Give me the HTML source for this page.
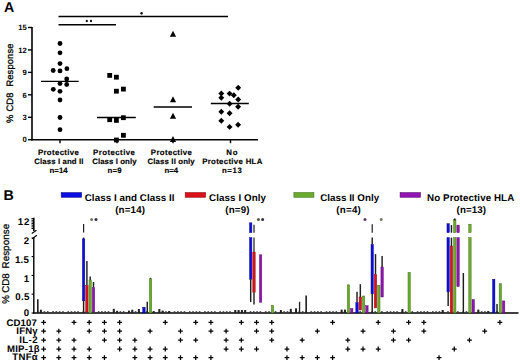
<!DOCTYPE html>
<html><head><meta charset="utf-8"><title>Figure</title>
<style>
html,body{margin:0;padding:0;background:#fff;}
body{width:520px;height:362px;overflow:hidden;}
svg{display:block;font-family:"Liberation Sans", sans-serif;text-rendering:geometricPrecision;}
</style></head>
<body>
<svg width="520" height="362" viewBox="0 0 520 362">
<rect width="520" height="362" fill="#fff"/>
<text x="3.9" y="11.75" font-size="14.2" font-weight="bold" text-anchor="start" fill="#000" >A</text>
<line x1="32" y1="27.0" x2="32" y2="140.5" stroke="#000" stroke-width="1.6"/>
<line x1="28" y1="139.7" x2="32" y2="139.7" stroke="#000" stroke-width="1.4"/>
<text x="26.7" y="142.45" font-size="7.7" font-weight="bold" text-anchor="end" fill="#000" >0</text>
<line x1="28" y1="117.3" x2="32" y2="117.3" stroke="#000" stroke-width="1.4"/>
<text x="26.7" y="120.05" font-size="7.7" font-weight="bold" text-anchor="end" fill="#000" >3</text>
<line x1="28" y1="94.8" x2="32" y2="94.8" stroke="#000" stroke-width="1.4"/>
<text x="26.7" y="97.55" font-size="7.7" font-weight="bold" text-anchor="end" fill="#000" >6</text>
<line x1="28" y1="72.4" x2="32" y2="72.4" stroke="#000" stroke-width="1.4"/>
<text x="26.7" y="75.15" font-size="7.7" font-weight="bold" text-anchor="end" fill="#000" >9</text>
<line x1="28" y1="49.9" x2="32" y2="49.9" stroke="#000" stroke-width="1.4"/>
<text x="26.7" y="52.65" font-size="7.7" font-weight="bold" text-anchor="end" fill="#000" >12</text>
<line x1="28" y1="27.5" x2="32" y2="27.5" stroke="#000" stroke-width="1.4"/>
<text x="26.7" y="30.25" font-size="7.7" font-weight="bold" text-anchor="end" fill="#000" >15</text>
<line x1="31.2" y1="139.7" x2="258" y2="139.7" stroke="#000" stroke-width="1.6"/>
<line x1="60" y1="139.7" x2="60" y2="143.2" stroke="#000" stroke-width="1.4"/>
<line x1="117" y1="139.7" x2="117" y2="143.2" stroke="#000" stroke-width="1.4"/>
<line x1="173" y1="139.7" x2="173" y2="143.2" stroke="#000" stroke-width="1.4"/>
<line x1="230.5" y1="139.7" x2="230.5" y2="143.2" stroke="#000" stroke-width="1.4"/>
<text transform="translate(12.7,122.9) rotate(-90)" font-size="9.3" stroke="#000" stroke-width="0.3" textLength="30.4" lengthAdjust="spacing">% CD8</text>
<text transform="translate(12.7,86.6) rotate(-90)" font-size="9.3" stroke="#000" stroke-width="0.3" textLength="43" lengthAdjust="spacing">Response</text>
<text x="37.88" y="154.8" font-size="7.8" font-weight="bold" textLength="41.03" lengthAdjust="spacing" stroke="#000" stroke-width="0.15">Protective</text>
<text x="34.20" y="163.8" font-size="7.8" font-weight="bold" textLength="49.22" lengthAdjust="spacing" stroke="#000" stroke-width="0.15">Class I and II</text>
<text x="49.57" y="172.8" font-size="7.8" font-weight="bold" textLength="18.07" lengthAdjust="spacing" stroke="#000" stroke-width="0.15">n=14</text>
<text x="93.10" y="154.8" font-size="7.8" font-weight="bold" textLength="41.80" lengthAdjust="spacing" stroke="#000" stroke-width="0.15">Protective</text>
<text x="92.16" y="163.8" font-size="7.8" font-weight="bold" textLength="44.33" lengthAdjust="spacing" stroke="#000" stroke-width="0.15">Class I only</text>
<text x="107.43" y="172.8" font-size="7.8" font-weight="bold" textLength="14.11" lengthAdjust="spacing" stroke="#000" stroke-width="0.15">n=9</text>
<text x="150.83" y="154.8" font-size="7.8" font-weight="bold" textLength="41.09" lengthAdjust="spacing" stroke="#000" stroke-width="0.15">Protective</text>
<text x="147.52" y="163.8" font-size="7.8" font-weight="bold" textLength="47.19" lengthAdjust="spacing" stroke="#000" stroke-width="0.15">Class II only</text>
<text x="164.60" y="172.8" font-size="7.8" font-weight="bold" textLength="13.58" lengthAdjust="spacing" stroke="#000" stroke-width="0.15">n=4</text>
<text x="226.37" y="154.8" font-size="7.8" font-weight="bold" textLength="11.27" lengthAdjust="spacing" stroke="#000" stroke-width="0.15">No</text>
<text x="202.17" y="163.8" font-size="7.8" font-weight="bold" textLength="60.15" lengthAdjust="spacing" stroke="#000" stroke-width="0.15">Protective HLA</text>
<text x="221.94" y="172.8" font-size="7.8" font-weight="bold" textLength="19.82" lengthAdjust="spacing" stroke="#000" stroke-width="0.15">n=13</text>
<line x1="58.5" y1="16.5" x2="228" y2="16.5" stroke="#000" stroke-width="1.5"/>
<line x1="58.5" y1="24.7" x2="116" y2="24.7" stroke="#000" stroke-width="1.5"/>
<ellipse cx="141.6" cy="13.3" rx="1.2" ry="1.35" fill="#111"/>
<ellipse cx="86.8" cy="21" rx="1.1" ry="1.35" fill="#111"/>
<ellipse cx="91.0" cy="21" rx="1.1" ry="1.35" fill="#111"/>
<line x1="41" y1="81.3" x2="78.7" y2="81.3" stroke="#000" stroke-width="1.3"/>
<line x1="97" y1="117.5" x2="135.8" y2="117.5" stroke="#000" stroke-width="1.3"/>
<line x1="153.7" y1="107" x2="192" y2="107" stroke="#000" stroke-width="1.3"/>
<line x1="210.8" y1="103.5" x2="248.8" y2="103.5" stroke="#000" stroke-width="1.3"/>
<circle cx="60" cy="43.5" r="2.4" fill="#000"/>
<circle cx="60" cy="52.8" r="2.4" fill="#000"/>
<circle cx="60" cy="63.6" r="2.4" fill="#000"/>
<circle cx="53.2" cy="70.5" r="2.4" fill="#000"/>
<circle cx="60" cy="70.9" r="2.4" fill="#000"/>
<circle cx="66.9" cy="68.7" r="2.4" fill="#000"/>
<circle cx="66.7" cy="79.0" r="2.4" fill="#000"/>
<circle cx="60" cy="83.6" r="2.4" fill="#000"/>
<circle cx="66.7" cy="84.5" r="2.4" fill="#000"/>
<circle cx="53.3" cy="89.3" r="2.4" fill="#000"/>
<circle cx="60" cy="91.3" r="2.4" fill="#000"/>
<circle cx="60" cy="100" r="2.4" fill="#000"/>
<circle cx="60" cy="117.5" r="2.4" fill="#000"/>
<circle cx="60" cy="129.7" r="2.4" fill="#000"/>
<rect x="107.30" y="73.00" width="4.8" height="4.8" fill="#000"/>
<rect x="114.00" y="74.80" width="4.8" height="4.8" fill="#000"/>
<rect x="114.00" y="88.80" width="4.8" height="4.8" fill="#000"/>
<rect x="121.00" y="86.70" width="4.8" height="4.8" fill="#000"/>
<rect x="107.30" y="117.30" width="4.8" height="4.8" fill="#000"/>
<rect x="114.00" y="118.00" width="4.8" height="4.8" fill="#000"/>
<rect x="121.00" y="115.30" width="4.8" height="4.8" fill="#000"/>
<rect x="121.00" y="132.90" width="4.8" height="4.8" fill="#000"/>
<rect x="114.00" y="137.60" width="4.8" height="4.8" fill="#000"/>
<polygon points="173,30.8 176.1,36.8 169.9,36.8" fill="#000"/>
<polygon points="173,96.3 176.1,102.3 169.9,102.3" fill="#000"/>
<polygon points="173,112.8 176.1,118.8 169.9,118.8" fill="#000"/>
<polygon points="173,136.0 176.1,142.0 169.9,142.0" fill="#000"/>
<polygon points="238.2,84.75 241.14999999999998,87.7 238.2,90.65 235.25,87.7" fill="#000"/>
<polygon points="221.3,90.55 224.25,93.5 221.3,96.45 218.35000000000002,93.5" fill="#000"/>
<polygon points="221.3,94.85 224.25,97.8 221.3,100.75 218.35000000000002,97.8" fill="#000"/>
<polygon points="229.6,90.64999999999999 232.54999999999998,93.6 229.6,96.55 226.65,93.6" fill="#000"/>
<polygon points="233.8,92.25 236.75,95.2 233.8,98.15 230.85000000000002,95.2" fill="#000"/>
<polygon points="238.2,96.55 241.14999999999998,99.5 238.2,102.45 235.25,99.5" fill="#000"/>
<polygon points="229.6,100.75 232.54999999999998,103.7 229.6,106.65 226.65,103.7" fill="#000"/>
<polygon points="238.1,103.75 241.04999999999998,106.7 238.1,109.65 235.15,106.7" fill="#000"/>
<polygon points="221.3,108.75 224.25,111.7 221.3,114.65 218.35000000000002,111.7" fill="#000"/>
<polygon points="229.6,110.35 232.54999999999998,113.3 229.6,116.25 226.65,113.3" fill="#000"/>
<polygon points="221.3,117.75 224.25,120.7 221.3,123.65 218.35000000000002,120.7" fill="#000"/>
<polygon points="229.6,123.95 232.54999999999998,126.9 229.6,129.85 226.65,126.9" fill="#000"/>
<polygon points="238.1,121.75 241.04999999999998,124.7 238.1,127.65 235.15,124.7" fill="#000"/>
<text x="3.5" y="199.8" font-size="14.2" font-weight="bold" text-anchor="start" fill="#000" >B</text>
<rect x="61.199999999999996" y="192.65" width="20.4" height="4.6" fill="#0c0ce4" stroke="#0a0a80" stroke-width="0.6"/>
<text x="84.76" y="200.8" font-size="9.75" font-weight="bold" textLength="89.69" lengthAdjust="spacing" >Class I and Class II</text>
<text x="115.20" y="213.1" font-size="9.75" font-weight="bold" textLength="29.79" lengthAdjust="spacing" >(n=14)</text>
<rect x="185.20000000000002" y="192.65" width="20.4" height="4.6" fill="#dc1018" stroke="#8a0a10" stroke-width="0.6"/>
<text x="209.10" y="200.8" font-size="9.75" font-weight="bold" textLength="56.86" lengthAdjust="spacing" >Class I Only</text>
<text x="225.20" y="213.1" font-size="9.75" font-weight="bold" textLength="24.33" lengthAdjust="spacing" >(n=9)</text>
<rect x="293.90000000000003" y="192.65" width="20.0" height="4.6" fill="#6cac2c" stroke="#40701a" stroke-width="0.6"/>
<text x="320.26" y="200.8" font-size="9.75" font-weight="bold" textLength="58.83" lengthAdjust="spacing" >Class II Only</text>
<text x="336.24" y="213.1" font-size="9.75" font-weight="bold" textLength="24.63" lengthAdjust="spacing" >(n=4)</text>
<rect x="400.1" y="192.65" width="20.4" height="4.6" fill="#9214b2" stroke="#5a0a70" stroke-width="0.6"/>
<text x="427.08" y="200.8" font-size="9.75" font-weight="bold" textLength="87.13" lengthAdjust="spacing" >No Protective HLA</text>
<text x="456.56" y="213.1" font-size="9.75" font-weight="bold" textLength="29.41" lengthAdjust="spacing" >(n=13)</text>
<text transform="translate(9.1,303.7) rotate(-90)" font-size="9.8" stroke="#000" stroke-width="0.25" textLength="30.3" lengthAdjust="spacing">% CD8</text>
<text transform="translate(9.1,268.5) rotate(-90)" font-size="9.8" stroke="#000" stroke-width="0.25" textLength="44.6" lengthAdjust="spacing">Response</text>
<line x1="33.8" y1="217.8" x2="33.8" y2="231.0" stroke="#000" stroke-width="1.6"/>
<line x1="31.499999999999996" y1="218.6" x2="33.8" y2="218.6" stroke="#000" stroke-width="1.0"/>
<line x1="31.499999999999996" y1="220.26" x2="33.8" y2="220.26" stroke="#000" stroke-width="1.0"/>
<line x1="31.499999999999996" y1="221.92" x2="33.8" y2="221.92" stroke="#000" stroke-width="1.0"/>
<line x1="31.499999999999996" y1="223.57999999999998" x2="33.8" y2="223.57999999999998" stroke="#000" stroke-width="1.0"/>
<line x1="31.499999999999996" y1="225.23999999999998" x2="33.8" y2="225.23999999999998" stroke="#000" stroke-width="1.0"/>
<line x1="31.499999999999996" y1="226.9" x2="33.8" y2="226.9" stroke="#000" stroke-width="1.0"/>
<line x1="31.499999999999996" y1="228.56" x2="33.8" y2="228.56" stroke="#000" stroke-width="1.0"/>
<line x1="31.799999999999997" y1="233.4" x2="36.5" y2="230.2" stroke="#000" stroke-width="1.2"/>
<line x1="32.199999999999996" y1="238.9" x2="36.8" y2="235.2" stroke="#000" stroke-width="1.2"/>
<line x1="33.8" y1="237.0" x2="33.8" y2="313.7" stroke="#000" stroke-width="1.4"/>
<line x1="31.599999999999998" y1="238.0" x2="33.8" y2="238.0" stroke="#000" stroke-width="1.1"/>
<line x1="31.599999999999998" y1="256.6" x2="33.8" y2="256.6" stroke="#000" stroke-width="1.1"/>
<line x1="31.599999999999998" y1="275.4" x2="33.8" y2="275.4" stroke="#000" stroke-width="1.1"/>
<line x1="31.599999999999998" y1="294.2" x2="33.8" y2="294.2" stroke="#000" stroke-width="1.1"/>
<line x1="31.599999999999998" y1="313.0" x2="33.8" y2="313.0" stroke="#000" stroke-width="1.1"/>
<text x="17.84" y="224.8" font-size="9.7" font-weight="bold" textLength="11.57" lengthAdjust="spacing" >12</text>
<text x="26.35" y="243.9" font-size="9.7" font-weight="bold" text-anchor="middle" fill="#000" >2</text>
<text x="14.93" y="262.6" font-size="9.7" font-weight="bold" textLength="13.93" lengthAdjust="spacing" >1.5</text>
<text x="26.35" y="281.5" font-size="9.7" font-weight="bold" text-anchor="middle" fill="#000" >1</text>
<text x="15.25" y="300.4" font-size="9.7" font-weight="bold" textLength="14.23" lengthAdjust="spacing" >0.5</text>
<text x="26.35" y="315.8" font-size="9.7" font-weight="bold" text-anchor="middle" fill="#000" >0</text>
<line x1="33.099999999999994" y1="313.0" x2="518.5" y2="313.0" stroke="#000" stroke-width="1.4"/>
<rect x="37.03" y="311.20" width="1.6" height="1.2" fill="#333"/>
<rect x="40.33" y="311.20" width="1.6" height="1.2" fill="#333"/>
<rect x="43.63" y="311.20" width="1.6" height="1.2" fill="#333"/>
<rect x="46.93" y="311.20" width="1.6" height="1.2" fill="#333"/>
<rect x="52.22" y="311.20" width="1.6" height="1.2" fill="#333"/>
<rect x="55.52" y="311.20" width="1.6" height="1.2" fill="#333"/>
<rect x="58.82" y="311.20" width="1.6" height="1.2" fill="#333"/>
<rect x="62.12" y="311.20" width="1.6" height="1.2" fill="#333"/>
<rect x="67.41" y="311.20" width="1.6" height="1.2" fill="#333"/>
<rect x="70.71" y="311.20" width="1.6" height="1.2" fill="#333"/>
<rect x="74.01" y="311.20" width="1.6" height="1.2" fill="#333"/>
<rect x="77.31" y="311.20" width="1.6" height="1.2" fill="#333"/>
<rect x="82.60" y="311.20" width="1.6" height="1.2" fill="#333"/>
<rect x="85.90" y="311.20" width="1.6" height="1.2" fill="#333"/>
<rect x="89.20" y="311.20" width="1.6" height="1.2" fill="#333"/>
<rect x="92.50" y="311.20" width="1.6" height="1.2" fill="#333"/>
<rect x="97.79" y="311.20" width="1.6" height="1.2" fill="#333"/>
<rect x="101.09" y="311.20" width="1.6" height="1.2" fill="#333"/>
<rect x="104.39" y="311.20" width="1.6" height="1.2" fill="#333"/>
<rect x="107.69" y="311.20" width="1.6" height="1.2" fill="#333"/>
<rect x="112.98" y="311.20" width="1.6" height="1.2" fill="#333"/>
<rect x="116.28" y="311.20" width="1.6" height="1.2" fill="#333"/>
<rect x="119.58" y="311.20" width="1.6" height="1.2" fill="#333"/>
<rect x="122.88" y="311.20" width="1.6" height="1.2" fill="#333"/>
<rect x="128.17" y="311.20" width="1.6" height="1.2" fill="#333"/>
<rect x="131.47" y="311.20" width="1.6" height="1.2" fill="#333"/>
<rect x="134.77" y="311.20" width="1.6" height="1.2" fill="#333"/>
<rect x="138.07" y="311.20" width="1.6" height="1.2" fill="#333"/>
<rect x="142.96" y="311.20" width="1.6" height="1.2" fill="#333"/>
<rect x="146.26" y="311.20" width="1.6" height="1.2" fill="#333"/>
<rect x="149.56" y="311.20" width="1.6" height="1.2" fill="#333"/>
<rect x="152.86" y="311.20" width="1.6" height="1.2" fill="#333"/>
<rect x="158.55" y="311.20" width="1.6" height="1.2" fill="#333"/>
<rect x="161.85" y="311.20" width="1.6" height="1.2" fill="#333"/>
<rect x="165.15" y="311.20" width="1.6" height="1.2" fill="#333"/>
<rect x="168.45" y="311.20" width="1.6" height="1.2" fill="#333"/>
<rect x="173.74" y="311.20" width="1.6" height="1.2" fill="#333"/>
<rect x="177.04" y="311.20" width="1.6" height="1.2" fill="#333"/>
<rect x="180.34" y="311.20" width="1.6" height="1.2" fill="#333"/>
<rect x="183.64" y="311.20" width="1.6" height="1.2" fill="#333"/>
<rect x="188.93" y="311.20" width="1.6" height="1.2" fill="#333"/>
<rect x="192.23" y="311.20" width="1.6" height="1.2" fill="#333"/>
<rect x="195.53" y="311.20" width="1.6" height="1.2" fill="#333"/>
<rect x="198.83" y="311.20" width="1.6" height="1.2" fill="#333"/>
<rect x="204.12" y="311.20" width="1.6" height="1.2" fill="#333"/>
<rect x="207.42" y="311.20" width="1.6" height="1.2" fill="#333"/>
<rect x="210.72" y="311.20" width="1.6" height="1.2" fill="#333"/>
<rect x="214.02" y="311.20" width="1.6" height="1.2" fill="#333"/>
<rect x="219.31" y="311.20" width="1.6" height="1.2" fill="#333"/>
<rect x="222.61" y="311.20" width="1.6" height="1.2" fill="#333"/>
<rect x="225.91" y="311.20" width="1.6" height="1.2" fill="#333"/>
<rect x="229.21" y="311.20" width="1.6" height="1.2" fill="#333"/>
<rect x="234.50" y="311.20" width="1.6" height="1.2" fill="#333"/>
<rect x="237.80" y="311.20" width="1.6" height="1.2" fill="#333"/>
<rect x="241.10" y="311.20" width="1.6" height="1.2" fill="#333"/>
<rect x="244.40" y="311.20" width="1.6" height="1.2" fill="#333"/>
<rect x="249.69" y="311.20" width="1.6" height="1.2" fill="#333"/>
<rect x="252.99" y="311.20" width="1.6" height="1.2" fill="#333"/>
<rect x="256.29" y="311.20" width="1.6" height="1.2" fill="#333"/>
<rect x="259.59" y="311.20" width="1.6" height="1.2" fill="#333"/>
<rect x="264.88" y="311.20" width="1.6" height="1.2" fill="#333"/>
<rect x="268.18" y="311.20" width="1.6" height="1.2" fill="#333"/>
<rect x="271.48" y="311.20" width="1.6" height="1.2" fill="#333"/>
<rect x="274.78" y="311.20" width="1.6" height="1.2" fill="#333"/>
<rect x="280.07" y="311.20" width="1.6" height="1.2" fill="#333"/>
<rect x="283.37" y="311.20" width="1.6" height="1.2" fill="#333"/>
<rect x="286.67" y="311.20" width="1.6" height="1.2" fill="#333"/>
<rect x="289.97" y="311.20" width="1.6" height="1.2" fill="#333"/>
<rect x="295.26" y="311.20" width="1.6" height="1.2" fill="#333"/>
<rect x="298.56" y="311.20" width="1.6" height="1.2" fill="#333"/>
<rect x="301.86" y="311.20" width="1.6" height="1.2" fill="#333"/>
<rect x="305.16" y="311.20" width="1.6" height="1.2" fill="#333"/>
<rect x="310.45" y="311.20" width="1.6" height="1.2" fill="#333"/>
<rect x="313.75" y="311.20" width="1.6" height="1.2" fill="#333"/>
<rect x="317.05" y="311.20" width="1.6" height="1.2" fill="#333"/>
<rect x="320.35" y="311.20" width="1.6" height="1.2" fill="#333"/>
<rect x="325.64" y="311.20" width="1.6" height="1.2" fill="#333"/>
<rect x="328.94" y="311.20" width="1.6" height="1.2" fill="#333"/>
<rect x="332.24" y="311.20" width="1.6" height="1.2" fill="#333"/>
<rect x="335.54" y="311.20" width="1.6" height="1.2" fill="#333"/>
<rect x="340.83" y="311.20" width="1.6" height="1.2" fill="#333"/>
<rect x="344.13" y="311.20" width="1.6" height="1.2" fill="#333"/>
<rect x="347.43" y="311.20" width="1.6" height="1.2" fill="#333"/>
<rect x="350.73" y="311.20" width="1.6" height="1.2" fill="#333"/>
<rect x="356.02" y="311.20" width="1.6" height="1.2" fill="#333"/>
<rect x="359.32" y="311.20" width="1.6" height="1.2" fill="#333"/>
<rect x="362.62" y="311.20" width="1.6" height="1.2" fill="#333"/>
<rect x="365.92" y="311.20" width="1.6" height="1.2" fill="#333"/>
<rect x="371.21" y="311.20" width="1.6" height="1.2" fill="#333"/>
<rect x="374.51" y="311.20" width="1.6" height="1.2" fill="#333"/>
<rect x="377.81" y="311.20" width="1.6" height="1.2" fill="#333"/>
<rect x="381.11" y="311.20" width="1.6" height="1.2" fill="#333"/>
<rect x="386.40" y="311.20" width="1.6" height="1.2" fill="#333"/>
<rect x="389.70" y="311.20" width="1.6" height="1.2" fill="#333"/>
<rect x="393.00" y="311.20" width="1.6" height="1.2" fill="#333"/>
<rect x="396.30" y="311.20" width="1.6" height="1.2" fill="#333"/>
<rect x="401.59" y="311.20" width="1.6" height="1.2" fill="#333"/>
<rect x="404.89" y="311.20" width="1.6" height="1.2" fill="#333"/>
<rect x="408.19" y="311.20" width="1.6" height="1.2" fill="#333"/>
<rect x="411.49" y="311.20" width="1.6" height="1.2" fill="#333"/>
<rect x="416.78" y="311.20" width="1.6" height="1.2" fill="#333"/>
<rect x="420.08" y="311.20" width="1.6" height="1.2" fill="#333"/>
<rect x="423.38" y="311.20" width="1.6" height="1.2" fill="#333"/>
<rect x="426.68" y="311.20" width="1.6" height="1.2" fill="#333"/>
<rect x="431.97" y="311.20" width="1.6" height="1.2" fill="#333"/>
<rect x="435.27" y="311.20" width="1.6" height="1.2" fill="#333"/>
<rect x="438.57" y="311.20" width="1.6" height="1.2" fill="#333"/>
<rect x="441.87" y="311.20" width="1.6" height="1.2" fill="#333"/>
<rect x="447.16" y="311.20" width="1.6" height="1.2" fill="#333"/>
<rect x="450.46" y="311.20" width="1.6" height="1.2" fill="#333"/>
<rect x="453.76" y="311.20" width="1.6" height="1.2" fill="#333"/>
<rect x="457.06" y="311.20" width="1.6" height="1.2" fill="#333"/>
<rect x="462.35" y="311.20" width="1.6" height="1.2" fill="#333"/>
<rect x="465.65" y="311.20" width="1.6" height="1.2" fill="#333"/>
<rect x="468.95" y="311.20" width="1.6" height="1.2" fill="#333"/>
<rect x="472.25" y="311.20" width="1.6" height="1.2" fill="#333"/>
<rect x="477.54" y="311.20" width="1.6" height="1.2" fill="#333"/>
<rect x="480.84" y="311.20" width="1.6" height="1.2" fill="#333"/>
<rect x="484.14" y="311.20" width="1.6" height="1.2" fill="#333"/>
<rect x="487.44" y="311.20" width="1.6" height="1.2" fill="#333"/>
<rect x="492.73" y="311.20" width="1.6" height="1.2" fill="#333"/>
<rect x="496.03" y="311.20" width="1.6" height="1.2" fill="#333"/>
<rect x="499.33" y="311.20" width="1.6" height="1.2" fill="#333"/>
<rect x="502.63" y="311.20" width="1.6" height="1.2" fill="#333"/>
<line x1="37.80" y1="299.3" x2="37.80" y2="313.0" stroke="#1e1e1e" stroke-width="1.6"/>
<line x1="40.90" y1="309.7" x2="40.90" y2="313.0" stroke="#222" stroke-width="2.0"/>
<line x1="83.60" y1="237.6" x2="83.60" y2="239.2" stroke="#1e1e1e" stroke-width="1.45"/>
<rect x="82.40" y="238.9" width="2.4" height="61.90" fill="#0c0ce4" stroke="#0a0a80" stroke-width="0.45"/>
<line x1="83.60" y1="300.8" x2="83.60" y2="313.0" stroke="#1e1e1e" stroke-width="1.45"/>
<line x1="83.60" y1="224.0" x2="83.60" y2="232.4" stroke="#1e1e1e" stroke-width="1.2"/>
<line x1="86.90" y1="261" x2="86.90" y2="285.4" stroke="#1e1e1e" stroke-width="1.45"/>
<rect x="85.70" y="285.4" width="2.4" height="26.60" fill="#dc1018" stroke="#8a0a10" stroke-width="0.45"/>
<line x1="90.20" y1="276.4" x2="90.20" y2="280" stroke="#1e1e1e" stroke-width="1.45"/>
<rect x="89.00" y="280" width="2.4" height="33.00" fill="#6cac2c" stroke="#40701a" stroke-width="0.45"/>
<line x1="93.50" y1="282" x2="93.50" y2="287.5" stroke="#1e1e1e" stroke-width="1.45"/>
<rect x="92.30" y="287.5" width="2.4" height="24.50" fill="#9214b2" stroke="#5a0a70" stroke-width="0.45"/>
<line x1="113.78" y1="308.8" x2="113.78" y2="313.0" stroke="#222" stroke-width="2.0"/>
<line x1="117.08" y1="310.8" x2="117.08" y2="313.0" stroke="#222" stroke-width="2.0"/>
<line x1="128.97" y1="310.6" x2="128.97" y2="313.0" stroke="#222" stroke-width="2.0"/>
<line x1="132.27" y1="309.7" x2="132.27" y2="313.0" stroke="#222" stroke-width="2.0"/>
<line x1="138.87" y1="309.0" x2="138.87" y2="313.0" stroke="#222" stroke-width="2.0"/>
<rect x="142.76" y="307.2" width="2.4" height="5.80" fill="#0c0ce4" stroke="#0a0a80" stroke-width="0.45"/>
<line x1="147.26" y1="301.8" x2="147.26" y2="313.0" stroke="#1e1e1e" stroke-width="1.45"/>
<line x1="150.56" y1="277.8" x2="150.56" y2="279" stroke="#1e1e1e" stroke-width="1.45"/>
<rect x="149.36" y="278.8" width="2.4" height="34.20" fill="#6cac2c" stroke="#40701a" stroke-width="0.45"/>
<line x1="153.66" y1="311.2" x2="153.66" y2="313.0" stroke="#222" stroke-width="2.0"/>
<line x1="159.35" y1="309" x2="159.35" y2="313.0" stroke="#222" stroke-width="2.0"/>
<line x1="162.65" y1="310.6" x2="162.65" y2="313.0" stroke="#222" stroke-width="2.0"/>
<line x1="169.25" y1="311" x2="169.25" y2="313.0" stroke="#222" stroke-width="2.0"/>
<line x1="235.30" y1="310" x2="235.30" y2="313.0" stroke="#222" stroke-width="2.0"/>
<line x1="238.60" y1="310" x2="238.60" y2="313.0" stroke="#222" stroke-width="2.0"/>
<line x1="241.90" y1="310" x2="241.90" y2="313.0" stroke="#222" stroke-width="2.0"/>
<line x1="245.20" y1="310" x2="245.20" y2="313.0" stroke="#222" stroke-width="2.0"/>
<rect x="249.49" y="222.8" width="2.4" height="9.90" fill="#0c0ce4" stroke="#0a0a80" stroke-width="0.45"/>
<rect x="249.49" y="237.6" width="2.4" height="41.70" fill="#0c0ce4" stroke="#0a0a80" stroke-width="0.45"/>
<line x1="250.69" y1="279.3" x2="250.69" y2="302" stroke="#1e1e1e" stroke-width="1.45"/>
<line x1="253.99" y1="224.7" x2="253.99" y2="232.7" stroke="#555" stroke-width="1.6"/>
<line x1="253.99" y1="237.6" x2="253.99" y2="252" stroke="#555" stroke-width="1.6"/>
<rect x="252.79" y="252" width="2.4" height="40.40" fill="#dc1018" stroke="#8a0a10" stroke-width="0.45"/>
<line x1="253.99" y1="292.4" x2="253.99" y2="304.6" stroke="#1e1e1e" stroke-width="1.4"/>
<rect x="259.39" y="254.8" width="2.4" height="47.50" fill="#9214b2" stroke="#5a0a70" stroke-width="0.45"/>
<rect x="271.28" y="305.2" width="2.4" height="7.80" fill="#6cac2c" stroke="#40701a" stroke-width="0.45"/>
<line x1="280.87" y1="310" x2="280.87" y2="313.0" stroke="#222" stroke-width="2.0"/>
<line x1="290.77" y1="308.8" x2="290.77" y2="313.0" stroke="#222" stroke-width="2.0"/>
<line x1="296.06" y1="308.3" x2="296.06" y2="313.0" stroke="#222" stroke-width="2.0"/>
<line x1="299.56" y1="301.8" x2="299.56" y2="313.0" stroke="#1e1e1e" stroke-width="1.3"/>
<line x1="306.16" y1="295.5" x2="306.16" y2="313.0" stroke="#1e1e1e" stroke-width="1.6"/>
<line x1="341.63" y1="309.6" x2="341.63" y2="313.0" stroke="#222" stroke-width="2.0"/>
<line x1="344.93" y1="309.6" x2="344.93" y2="313.0" stroke="#222" stroke-width="2.0"/>
<rect x="347.23" y="284.8" width="2.4" height="28.20" fill="#6cac2c" stroke="#40701a" stroke-width="0.45"/>
<rect x="350.53" y="308.5" width="2.4" height="4.50" fill="#9214b2" stroke="#5a0a70" stroke-width="0.45"/>
<line x1="357.02" y1="291.7" x2="357.02" y2="302.5" stroke="#1e1e1e" stroke-width="1.45"/>
<rect x="355.82" y="302.5" width="2.4" height="10.50" fill="#0c0ce4" stroke="#0a0a80" stroke-width="0.45"/>
<line x1="360.32" y1="284.2" x2="360.32" y2="297" stroke="#1e1e1e" stroke-width="1.45"/>
<rect x="359.12" y="297" width="2.4" height="13.00" fill="#dc1018" stroke="#8a0a10" stroke-width="0.45"/>
<rect x="362.42" y="296" width="2.4" height="17.00" fill="#6cac2c" stroke="#40701a" stroke-width="0.45"/>
<rect x="365.72" y="305.7" width="2.4" height="7.30" fill="#9214b2" stroke="#5a0a70" stroke-width="0.45"/>
<line x1="372.21" y1="224.2" x2="372.21" y2="232.7" stroke="#1e1e1e" stroke-width="1.2"/>
<line x1="372.21" y1="237.6" x2="372.21" y2="244.5" stroke="#1e1e1e" stroke-width="1.45"/>
<rect x="371.01" y="244.5" width="2.4" height="49.40" fill="#0c0ce4" stroke="#0a0a80" stroke-width="0.45"/>
<line x1="372.21" y1="293.9" x2="372.21" y2="313.0" stroke="#1e1e1e" stroke-width="1.45"/>
<line x1="375.51" y1="254.1" x2="375.51" y2="274.5" stroke="#1e1e1e" stroke-width="1.45"/>
<rect x="374.31" y="274.5" width="2.4" height="33.40" fill="#dc1018" stroke="#8a0a10" stroke-width="0.45"/>
<rect x="377.61" y="285.3" width="2.4" height="27.70" fill="#6cac2c" stroke="#40701a" stroke-width="0.45"/>
<line x1="382.11" y1="256" x2="382.11" y2="267" stroke="#1e1e1e" stroke-width="1.45"/>
<rect x="380.91" y="267" width="2.4" height="30.00" fill="#9214b2" stroke="#5a0a70" stroke-width="0.45"/>
<line x1="402.39" y1="309" x2="402.39" y2="313.0" stroke="#222" stroke-width="2.0"/>
<rect x="407.99" y="272.4" width="2.4" height="40.60" fill="#6cac2c" stroke="#40701a" stroke-width="0.45"/>
<line x1="442.67" y1="310" x2="442.67" y2="313.0" stroke="#222" stroke-width="2.0"/>
<rect x="446.96" y="223.7" width="2.4" height="9.00" fill="#0c0ce4" stroke="#0a0a80" stroke-width="0.45"/>
<rect x="446.96" y="237.6" width="2.4" height="54.30" fill="#0c0ce4" stroke="#0a0a80" stroke-width="0.45"/>
<line x1="448.16" y1="291.9" x2="448.16" y2="305.9" stroke="#1e1e1e" stroke-width="1.45"/>
<line x1="451.46" y1="225.1" x2="451.46" y2="232.7" stroke="#1e1e1e" stroke-width="1.45"/>
<line x1="451.46" y1="237.6" x2="451.46" y2="246" stroke="#1e1e1e" stroke-width="1.45"/>
<rect x="450.26" y="246" width="2.4" height="67.00" fill="#dc1018" stroke="#8a0a10" stroke-width="0.45"/>
<rect x="453.56" y="219.5" width="2.4" height="13.20" fill="#6cac2c" stroke="#40701a" stroke-width="0.45"/>
<line x1="454.76" y1="218.6" x2="454.76" y2="220.5" stroke="#1e1e1e" stroke-width="1.45"/>
<rect x="453.56" y="237.6" width="2.4" height="75.40" fill="#6cac2c" stroke="#40701a" stroke-width="0.45"/>
<rect x="456.86" y="225.1" width="2.4" height="7.60" fill="#9214b2" stroke="#5a0a70" stroke-width="0.45"/>
<rect x="456.86" y="237.6" width="2.4" height="49.00" fill="#9214b2" stroke="#5a0a70" stroke-width="0.45"/>
<line x1="463.35" y1="273" x2="463.35" y2="313.0" stroke="#1e1e1e" stroke-width="1.45"/>
<rect x="468.75" y="224.2" width="2.4" height="8.50" fill="#6cac2c" stroke="#40701a" stroke-width="0.45"/>
<rect x="468.75" y="237.6" width="2.4" height="75.40" fill="#6cac2c" stroke="#40701a" stroke-width="0.45"/>
<rect x="472.05" y="299.5" width="2.4" height="13.50" fill="#9214b2" stroke="#5a0a70" stroke-width="0.45"/>
<line x1="478.34" y1="309.6" x2="478.34" y2="313.0" stroke="#222" stroke-width="2.0"/>
<line x1="488.24" y1="311" x2="488.24" y2="313.0" stroke="#222" stroke-width="2.0"/>
<rect x="492.53" y="279.2" width="2.4" height="33.80" fill="#0c0ce4" stroke="#0a0a80" stroke-width="0.45"/>
<line x1="497.03" y1="304" x2="497.03" y2="313.0" stroke="#1e1e1e" stroke-width="1.45"/>
<rect x="499.13" y="283.7" width="2.4" height="29.30" fill="#6cac2c" stroke="#40701a" stroke-width="0.45"/>
<rect x="502.43" y="300.9" width="2.4" height="12.10" fill="#9214b2" stroke="#5a0a70" stroke-width="0.45"/>
<circle cx="91.6" cy="219.6" r="1.5" fill="#6f7d5d"/>
<circle cx="96.0" cy="219.6" r="1.5" fill="#3b2a48"/>
<circle cx="258.4" cy="219.6" r="1.5" fill="#4d5a40"/>
<circle cx="262.6" cy="219.6" r="1.5" fill="#3b2a48"/>
<circle cx="365.0" cy="219.6" r="1.5" fill="#5a3a6a"/>
<circle cx="381.2" cy="219.6" r="1.5" fill="#6f7d5d"/>
<text x="6.48" y="325.5" font-size="9.6" font-weight="bold" textLength="30.31" lengthAdjust="spacing" >CD107</text>
<text x="16.28" y="334.2" font-size="9.6" font-weight="bold" textLength="21.40" lengthAdjust="spacing" >IFN&#947;</text>
<text x="19.28" y="343.3" font-size="9.6" font-weight="bold" textLength="18.20" lengthAdjust="spacing" >IL-2</text>
<text x="6.93" y="351.9" font-size="9.6" font-weight="bold" textLength="32.69" lengthAdjust="spacing" >MIP-1&#946;</text>
<text x="12.34" y="360.4" font-size="9.6" font-weight="bold" textLength="25.43" lengthAdjust="spacing" >TNF&#945;</text>
<path d="M41.20 322.30H46.00M43.60 319.90V324.70" stroke="#000" stroke-width="1.25" fill="none"/>
<path d="M41.20 331.20H46.00M43.60 328.80V333.60" stroke="#000" stroke-width="1.25" fill="none"/>
<path d="M41.20 340.10H46.00M43.60 337.70V342.50" stroke="#000" stroke-width="1.25" fill="none"/>
<path d="M41.20 349.00H46.00M43.60 346.60V351.40" stroke="#000" stroke-width="1.25" fill="none"/>
<path d="M41.20 357.60H46.00M43.60 355.20V360.00" stroke="#000" stroke-width="1.25" fill="none"/>
<path d="M56.41 331.20H61.21M58.81 328.80V333.60" stroke="#000" stroke-width="1.25" fill="none"/>
<path d="M56.41 340.10H61.21M58.81 337.70V342.50" stroke="#000" stroke-width="1.25" fill="none"/>
<path d="M56.41 349.00H61.21M58.81 346.60V351.40" stroke="#000" stroke-width="1.25" fill="none"/>
<path d="M56.41 357.60H61.21M58.81 355.20V360.00" stroke="#000" stroke-width="1.25" fill="none"/>
<path d="M71.62 322.30H76.42M74.02 319.90V324.70" stroke="#000" stroke-width="1.25" fill="none"/>
<path d="M71.62 340.10H76.42M74.02 337.70V342.50" stroke="#000" stroke-width="1.25" fill="none"/>
<path d="M71.62 349.00H76.42M74.02 346.60V351.40" stroke="#000" stroke-width="1.25" fill="none"/>
<path d="M71.62 357.60H76.42M74.02 355.20V360.00" stroke="#000" stroke-width="1.25" fill="none"/>
<path d="M86.83 322.30H91.63M89.23 319.90V324.70" stroke="#000" stroke-width="1.25" fill="none"/>
<path d="M86.83 331.20H91.63M89.23 328.80V333.60" stroke="#000" stroke-width="1.25" fill="none"/>
<path d="M86.83 349.00H91.63M89.23 346.60V351.40" stroke="#000" stroke-width="1.25" fill="none"/>
<path d="M86.83 357.60H91.63M89.23 355.20V360.00" stroke="#000" stroke-width="1.25" fill="none"/>
<path d="M102.04 322.30H106.84M104.44 319.90V324.70" stroke="#000" stroke-width="1.25" fill="none"/>
<path d="M102.04 331.20H106.84M104.44 328.80V333.60" stroke="#000" stroke-width="1.25" fill="none"/>
<path d="M102.04 340.10H106.84M104.44 337.70V342.50" stroke="#000" stroke-width="1.25" fill="none"/>
<path d="M102.04 357.60H106.84M104.44 355.20V360.00" stroke="#000" stroke-width="1.25" fill="none"/>
<path d="M117.25 322.30H122.05M119.65 319.90V324.70" stroke="#000" stroke-width="1.25" fill="none"/>
<path d="M117.25 331.20H122.05M119.65 328.80V333.60" stroke="#000" stroke-width="1.25" fill="none"/>
<path d="M117.25 340.10H122.05M119.65 337.70V342.50" stroke="#000" stroke-width="1.25" fill="none"/>
<path d="M117.25 349.00H122.05M119.65 346.60V351.40" stroke="#000" stroke-width="1.25" fill="none"/>
<path d="M132.46 340.10H137.26M134.86 337.70V342.50" stroke="#000" stroke-width="1.25" fill="none"/>
<path d="M132.46 349.00H137.26M134.86 346.60V351.40" stroke="#000" stroke-width="1.25" fill="none"/>
<path d="M132.46 357.60H137.26M134.86 355.20V360.00" stroke="#000" stroke-width="1.25" fill="none"/>
<path d="M147.67 331.20H152.47M150.07 328.80V333.60" stroke="#000" stroke-width="1.25" fill="none"/>
<path d="M147.67 349.00H152.47M150.07 346.60V351.40" stroke="#000" stroke-width="1.25" fill="none"/>
<path d="M147.67 357.60H152.47M150.07 355.20V360.00" stroke="#000" stroke-width="1.25" fill="none"/>
<path d="M162.88 322.30H167.68M165.28 319.90V324.70" stroke="#000" stroke-width="1.25" fill="none"/>
<path d="M162.88 349.00H167.68M165.28 346.60V351.40" stroke="#000" stroke-width="1.25" fill="none"/>
<path d="M162.88 357.60H167.68M165.28 355.20V360.00" stroke="#000" stroke-width="1.25" fill="none"/>
<path d="M178.09 331.20H182.89M180.49 328.80V333.60" stroke="#000" stroke-width="1.25" fill="none"/>
<path d="M178.09 340.10H182.89M180.49 337.70V342.50" stroke="#000" stroke-width="1.25" fill="none"/>
<path d="M178.09 357.60H182.89M180.49 355.20V360.00" stroke="#000" stroke-width="1.25" fill="none"/>
<path d="M193.30 322.30H198.10M195.70 319.90V324.70" stroke="#000" stroke-width="1.25" fill="none"/>
<path d="M193.30 340.10H198.10M195.70 337.70V342.50" stroke="#000" stroke-width="1.25" fill="none"/>
<path d="M193.30 357.60H198.10M195.70 355.20V360.00" stroke="#000" stroke-width="1.25" fill="none"/>
<path d="M208.51 322.30H213.31M210.91 319.90V324.70" stroke="#000" stroke-width="1.25" fill="none"/>
<path d="M208.51 331.20H213.31M210.91 328.80V333.60" stroke="#000" stroke-width="1.25" fill="none"/>
<path d="M208.51 357.60H213.31M210.91 355.20V360.00" stroke="#000" stroke-width="1.25" fill="none"/>
<path d="M223.72 331.20H228.52M226.12 328.80V333.60" stroke="#000" stroke-width="1.25" fill="none"/>
<path d="M223.72 340.10H228.52M226.12 337.70V342.50" stroke="#000" stroke-width="1.25" fill="none"/>
<path d="M223.72 349.00H228.52M226.12 346.60V351.40" stroke="#000" stroke-width="1.25" fill="none"/>
<path d="M238.93 322.30H243.73M241.33 319.90V324.70" stroke="#000" stroke-width="1.25" fill="none"/>
<path d="M238.93 340.10H243.73M241.33 337.70V342.50" stroke="#000" stroke-width="1.25" fill="none"/>
<path d="M238.93 349.00H243.73M241.33 346.60V351.40" stroke="#000" stroke-width="1.25" fill="none"/>
<path d="M254.14 322.30H258.94M256.54 319.90V324.70" stroke="#000" stroke-width="1.25" fill="none"/>
<path d="M254.14 331.20H258.94M256.54 328.80V333.60" stroke="#000" stroke-width="1.25" fill="none"/>
<path d="M254.14 349.00H258.94M256.54 346.60V351.40" stroke="#000" stroke-width="1.25" fill="none"/>
<path d="M269.35 322.30H274.15M271.75 319.90V324.70" stroke="#000" stroke-width="1.25" fill="none"/>
<path d="M269.35 331.20H274.15M271.75 328.80V333.60" stroke="#000" stroke-width="1.25" fill="none"/>
<path d="M269.35 340.10H274.15M271.75 337.70V342.50" stroke="#000" stroke-width="1.25" fill="none"/>
<path d="M284.56 349.00H289.36M286.96 346.60V351.40" stroke="#000" stroke-width="1.25" fill="none"/>
<path d="M284.56 357.60H289.36M286.96 355.20V360.00" stroke="#000" stroke-width="1.25" fill="none"/>
<path d="M299.77 340.10H304.57M302.17 337.70V342.50" stroke="#000" stroke-width="1.25" fill="none"/>
<path d="M299.77 357.60H304.57M302.17 355.20V360.00" stroke="#000" stroke-width="1.25" fill="none"/>
<path d="M314.98 331.20H319.78M317.38 328.80V333.60" stroke="#000" stroke-width="1.25" fill="none"/>
<path d="M314.98 357.60H319.78M317.38 355.20V360.00" stroke="#000" stroke-width="1.25" fill="none"/>
<path d="M330.19 322.30H334.99M332.59 319.90V324.70" stroke="#000" stroke-width="1.25" fill="none"/>
<path d="M330.19 357.60H334.99M332.59 355.20V360.00" stroke="#000" stroke-width="1.25" fill="none"/>
<path d="M345.40 340.10H350.20M347.80 337.70V342.50" stroke="#000" stroke-width="1.25" fill="none"/>
<path d="M345.40 349.00H350.20M347.80 346.60V351.40" stroke="#000" stroke-width="1.25" fill="none"/>
<path d="M360.61 331.20H365.41M363.01 328.80V333.60" stroke="#000" stroke-width="1.25" fill="none"/>
<path d="M360.61 349.00H365.41M363.01 346.60V351.40" stroke="#000" stroke-width="1.25" fill="none"/>
<path d="M375.82 322.30H380.62M378.22 319.90V324.70" stroke="#000" stroke-width="1.25" fill="none"/>
<path d="M375.82 349.00H380.62M378.22 346.60V351.40" stroke="#000" stroke-width="1.25" fill="none"/>
<path d="M391.03 331.20H395.83M393.43 328.80V333.60" stroke="#000" stroke-width="1.25" fill="none"/>
<path d="M391.03 340.10H395.83M393.43 337.70V342.50" stroke="#000" stroke-width="1.25" fill="none"/>
<path d="M406.24 322.30H411.04M408.64 319.90V324.70" stroke="#000" stroke-width="1.25" fill="none"/>
<path d="M406.24 340.10H411.04M408.64 337.70V342.50" stroke="#000" stroke-width="1.25" fill="none"/>
<path d="M421.45 322.30H426.25M423.85 319.90V324.70" stroke="#000" stroke-width="1.25" fill="none"/>
<path d="M421.45 331.20H426.25M423.85 328.80V333.60" stroke="#000" stroke-width="1.25" fill="none"/>
<path d="M436.66 357.60H441.46M439.06 355.20V360.00" stroke="#000" stroke-width="1.25" fill="none"/>
<path d="M451.87 349.00H456.67M454.27 346.60V351.40" stroke="#000" stroke-width="1.25" fill="none"/>
<path d="M467.08 340.10H471.88M469.48 337.70V342.50" stroke="#000" stroke-width="1.25" fill="none"/>
<path d="M482.29 331.20H487.09M484.69 328.80V333.60" stroke="#000" stroke-width="1.25" fill="none"/>
<path d="M497.50 322.30H502.30M499.90 319.90V324.70" stroke="#000" stroke-width="1.25" fill="none"/>
</svg>
</body></html>
